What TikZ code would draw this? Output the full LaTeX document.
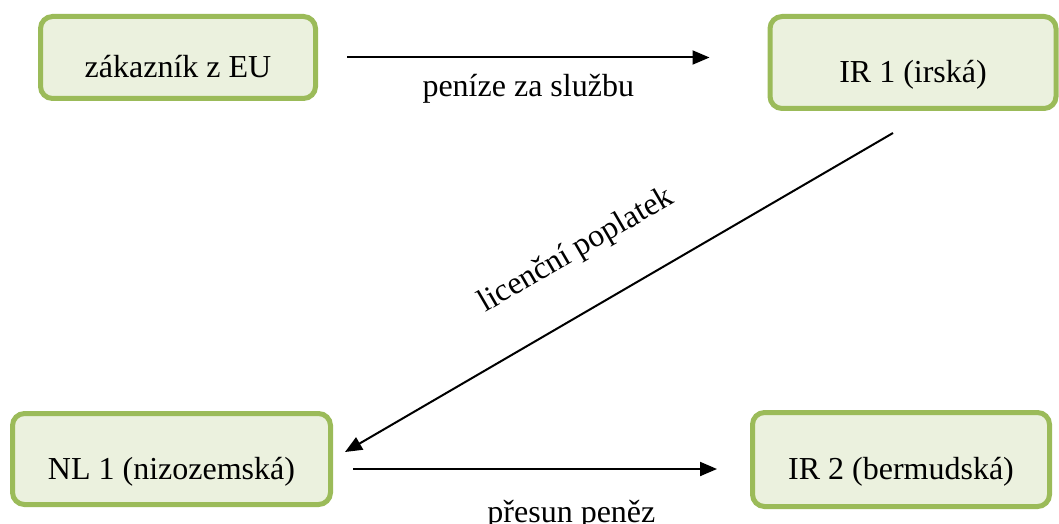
\documentclass[tikz,border=0pt]{standalone}
\usepackage{fontspec}
\setmainfont{Liberation Serif}
\usetikzlibrary{positioning, arrows.meta}
\definecolor{boxfill}{HTML}{EBF1DE}
\definecolor{boxline}{HTML}{9BBB59}
\tikzstyle{entity}=[rectangle, rounded corners=6pt, draw=boxline, fill=boxfill, line width=2.5pt, text height=20pt, text depth=0pt, font=\fontsize{16}{19}\selectfont]
\tikzstyle{flow}=[-{Triangle[length=8.5pt,width=7pt]}, line width=1pt]
\tikzstyle{annot}=[font=\fontsize{16}{19}\selectfont, inner sep=0pt]

\begin{document}
\begin{tikzpicture}[x=0.5pt, y=-0.5pt]
	\useasboundingbox (0,0) rectangle (1059,524);

	% Draw the companies
	\node[entity, minimum width=137.5pt, minimum height=41pt] (EU) at (178,57.5) {zákazník z EU};
	\node[entity, minimum width=143pt, minimum height=46pt] (IR-1) at (913,62.5) {IR 1 (irská)};
	\node[entity, minimum width=159pt, minimum height=45.5pt] (NL-1) at (171.5,459) {NL 1 (nizozemská)};
	\node[entity, minimum width=148.5pt, minimum height=47pt] (IR-2) at (901,459.5) {IR 2 (bermudská)};

	% Free ends of the money flows
	\coordinate (pay-a) at ([xshift=14.5pt]EU.east);
	\coordinate (pay-b) at ([xshift=-29pt]IR-1.west |- pay-a);
	\coordinate (fee-a) at ([xshift=-10pt, yshift=-11pt]IR-1.south);
	\coordinate (fee-b) at ([xshift=6pt, yshift=3.5pt]NL-1.east);
	\coordinate (move-a) at ([xshift=10pt, yshift=-5pt]NL-1.east);
	\coordinate (move-b) at ([xshift=-16.5pt]IR-2.west |- move-a);

	% Connect the companies
	\draw[flow] (pay-a) -- node[annot, below=8pt] (pay) {peníze za službu} (pay-b);
	\draw[flow] (fee-a) -- node[annot, sloped, above=21pt, pos=0.525] (fee) {licenční poplatek} (fee-b);
	\draw[flow] (move-a) -- node[annot, below=15pt, pos=0.6] (move) {přesun peněz} (move-b);
\end{tikzpicture}
\end{document}
